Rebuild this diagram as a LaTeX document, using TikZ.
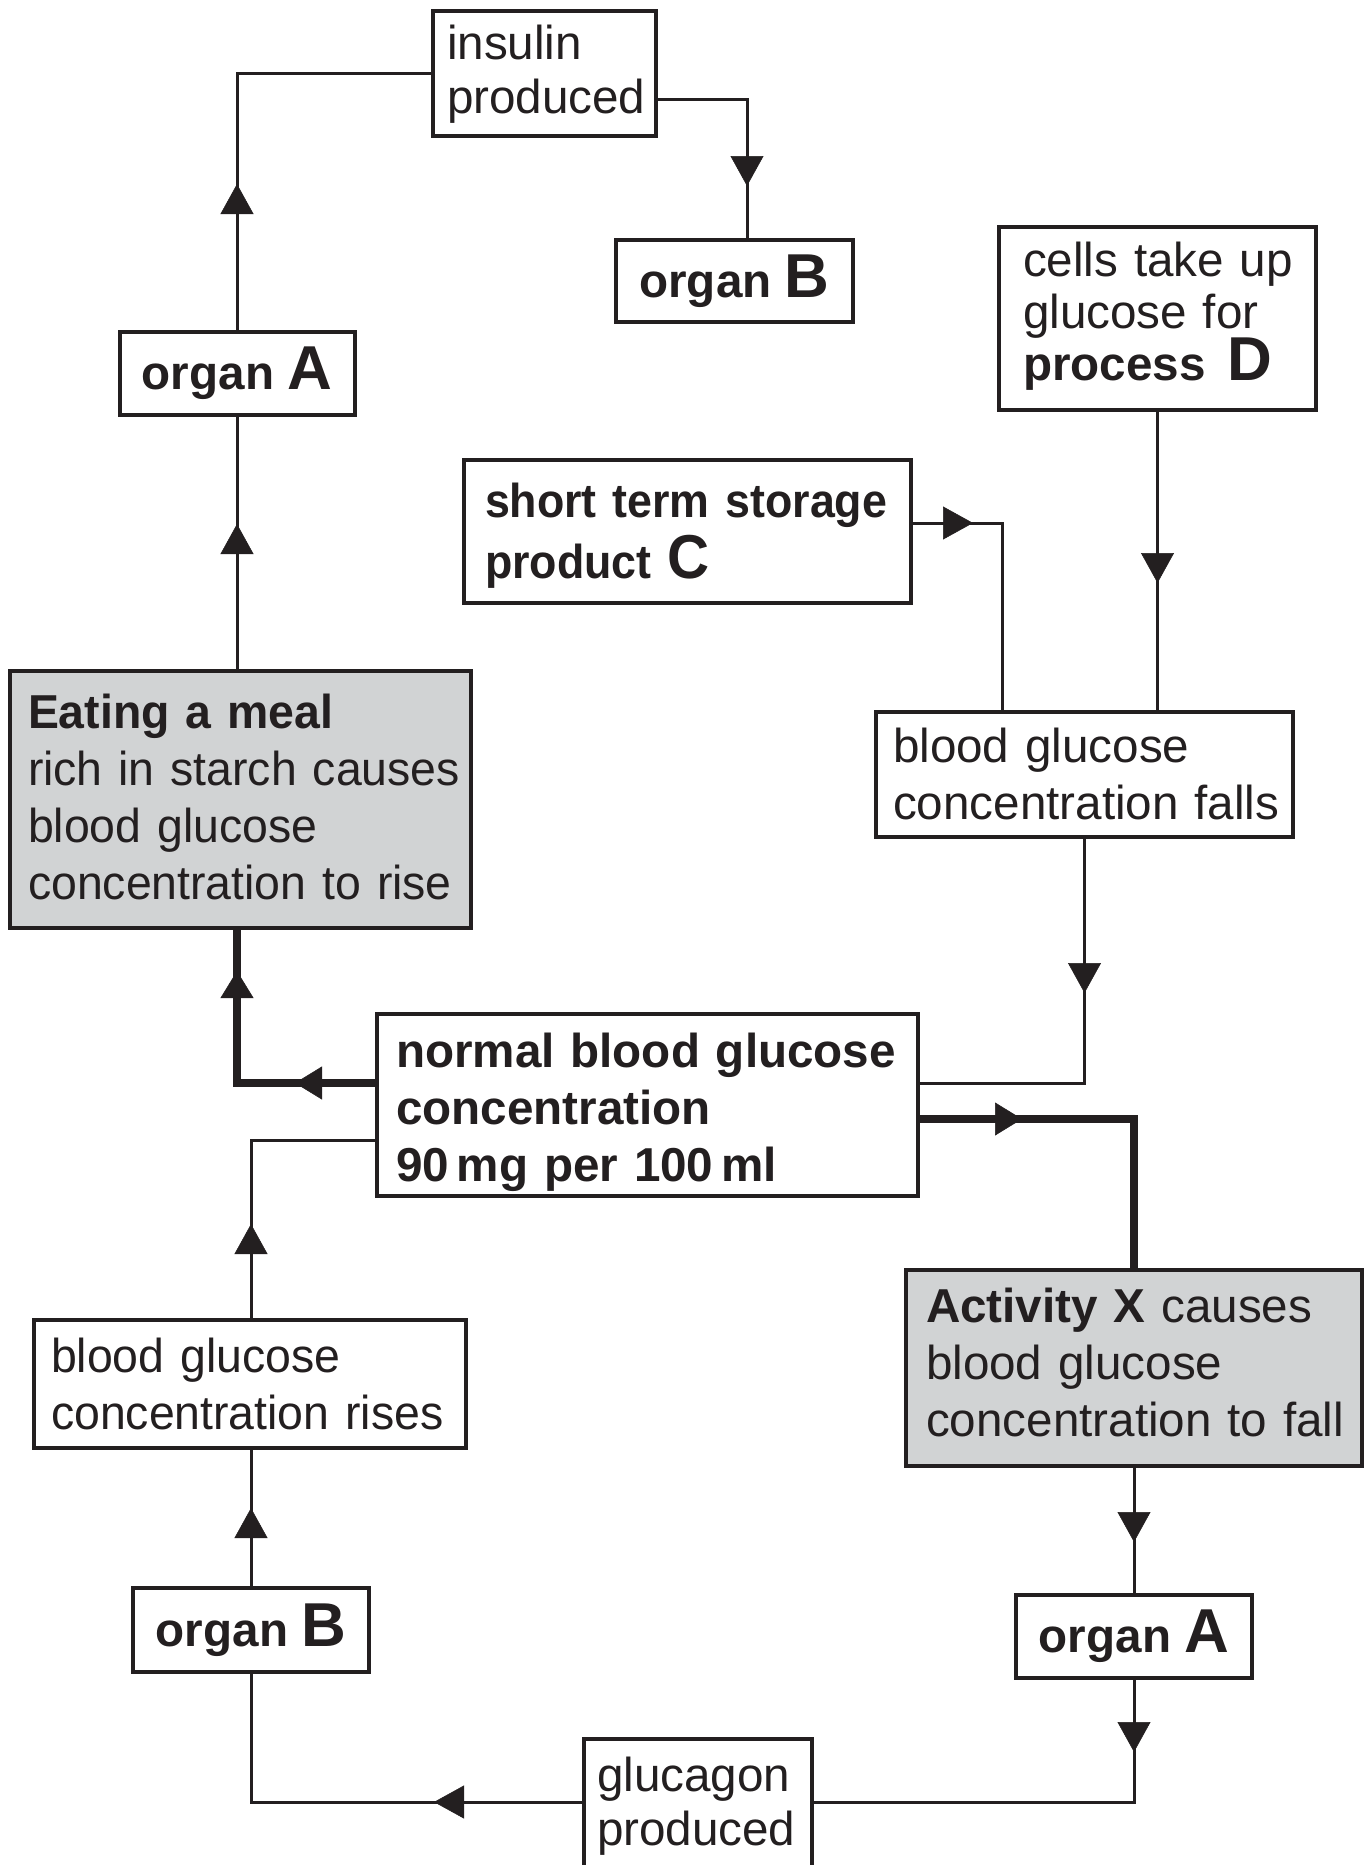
\documentclass[tikz,border=0pt]{standalone}
\usepackage{fontspec}
\setmainfont{Liberation Sans}
\newfontfamily\narrA[FakeStretch=0.975]{Liberation Sans}
\newfontfamily\narrB[FakeStretch=0.94]{Liberation Sans}
\usetikzlibrary{arrows.meta,calc,decorations.markings}
\definecolor{ink}{RGB}{35,31,32}
\definecolor{shade}{RGB}{209,211,212}
\newcommand\biglet[1]{{\fontsize{62}{57}\selectfont #1}}
\newcommand\biglets[1]{\smash{\fontsize{62}{57}\selectfont #1}}
\newcommand\rowsof[1]{\begin{tabular}{@{}l@{}}#1\end{tabular}}
% rows lowered by #1 without changing the reported size of the text box
\newcommand\shiftrows[2]{\setbox0\hbox{\rowsof{#2}}\raisebox{-#1}[\ht0][\dp0]{\copy0}}
\begin{document}
\begin{tikzpicture}[x=1pt,y=-1pt,
  Tri/.tip={Triangle[length=30pt,width=33pt,line width=0.5pt]},
  TriK/.tip={Triangle[length=27pt,width=33pt,line width=0.5pt]},
  box/.style={draw=ink, line width=4pt, text=ink, inner ysep=0pt,
    font=\fontsize{47.6}{57}\selectfont, align=left},
  cbox/.style={box, align=center, inner xsep=0pt, font=\fontsize{47.6}{57}\selectfont\bfseries},
  conn/.style={draw=ink, line width=3pt},
  heavy/.style={draw=ink, line width=8pt},
  tip/.style={postaction={decorate,decoration={markings,mark=at position #1 with {\arrow{Tri}}}}},
  tipk/.style={postaction={decorate,decoration={markings,mark=at position #1 with {\arrow{TriK}}}}}
]
\useasboundingbox[fill=white] (0,0) rectangle (1370,1865);

% boxes
\node[box, minimum width=223pt, minimum height=125pt, inner xsep=14pt, text width=195pt,
  font=\fontsize{47.6}{54}\selectfont] (ins) at (544.5,73.5) {\shiftrows{2pt}{insulin\\produced}};
\node[cbox, minimum width=237pt, minimum height=82pt] (oB1) at (734.5,281) {organ \biglet{B}};
\node[cbox, minimum width=235pt, minimum height=83pt] (oA1) at (237,373.5) {organ \biglet{A}};
\node[box, minimum width=317pt, minimum height=183pt, inner xsep=24pt, text width=269pt,
  font=\fontsize{47.6}{52}\selectfont] (procD) at (1157.5,318.5)
  {\shiftrows{0pt}{cells take up\\glucose for\\\textbf{process\hspace{6pt} \biglets{D}}}};
\node[box, minimum width=447pt, minimum height=143pt, inner xsep=21pt, text width=405pt,
  font=\fontsize{47.6}{58}\selectfont\narrB\bfseries] (stor) at (687.5,531.5)
  {\shiftrows{5pt}{short term storage\\product \biglet{C}}};
\node[box, fill=shade, minimum width=461pt, minimum height=257pt, inner xsep=18pt, text width=425pt,
  font=\fontsize{47.6}{57}\selectfont\narrA] (eat) at (240.5,799.5)
  {\shiftrows{3pt}{\textbf{Eating a meal}\\rich in starch causes\\blood glucose\\concentration to rise}};
\node[box, minimum width=417pt, minimum height=125pt, inner xsep=17pt, text width=383pt]
  (falls) at (1084.5,774.5) {\shiftrows{5pt}{blood glucose\\concentration falls}};
\node[box, minimum width=541pt, minimum height=182pt, inner xsep=19pt, text width=503pt,
  font=\fontsize{47.6}{57}\selectfont\bfseries] (norm) at (647.5,1105)
  {\shiftrows{8pt}{normal blood glucose\\concentration\\90\,mg per 100\,ml}};
\node[box, fill=shade, minimum width=456pt, minimum height=196pt, inner xsep=20pt, text width=416pt]
  (actX) at (1134,1368)
  {\rowsof{\textbf{Activity X} causes\\blood glucose\\concentration to fall}};
\node[box, minimum width=432pt, minimum height=128pt, inner xsep=17pt, text width=398pt,
  font=\fontsize{47.6}{57}\selectfont\narrA] (rises) at (250,1384)
  {\shiftrows{6pt}{blood glucose\\concentration rises}};
\node[cbox, minimum width=236pt, minimum height=84pt] (oB2) at (251,1630) {organ \biglet{B}};
\node[cbox, minimum width=236pt, minimum height=83pt] (oA2) at (1134,1636.5) {organ \biglet{A}};
\node[box, draw=none, outer sep=0pt, minimum width=228pt, minimum height=126pt, inner xsep=13pt,
  text width=202pt, font=\fontsize{47.6}{54}\selectfont] (gluc) at (698,1802)
  {\shiftrows{6pt}{glucagon\\produced}};
\draw[draw=ink, line width=4pt] (gluc.south west) -- (gluc.north west) -- (gluc.north east) -- (gluc.south east);

% connectors
\draw[conn, tip=146pt] (oA1.north) |- (ins.west);
\draw[conn, tip=-52pt] ($(ins.east)+(0,26.5)$) -| ($(oB1.north)+(12.5,0)$);
\draw[conn, tip=145pt] (eat.north -| oA1.south) -- (oA1.south);
\draw[heavy, tipk=80pt, tipk=250pt] ($(norm.west)+(0,-22)$) -| (eat.south -| oA1.south);
\draw[conn, tip=154pt] (falls.south) |- ($(norm.east)+(0,-22)$);
\draw[heavy, tipk=102pt] ($(norm.east)+(0,14)$) -| (actX.north);
\draw[conn, tip=74pt] (actX.south) -- (oA2.north);
\draw[conn, tip=72pt] (oA2.south) |- (gluc.east);
\draw[conn, tip=150pt] (gluc.west) -| (oB2.south);
\draw[conn, tip=78pt] (oB2.north) -- (oB2.north |- rises.south);
\draw[conn, tip=94pt] (rises.north -| oB2.north) |- ($(norm.west)+(0,35)$);
\draw[conn, tip=60pt] ($(stor.east)+(0,-8.5)$) -| ($(falls.north)+(-82.5,0)$);
\draw[conn, tip=171pt] (procD.south) -- (procD.south |- falls.north);
\end{tikzpicture}
\end{document}
